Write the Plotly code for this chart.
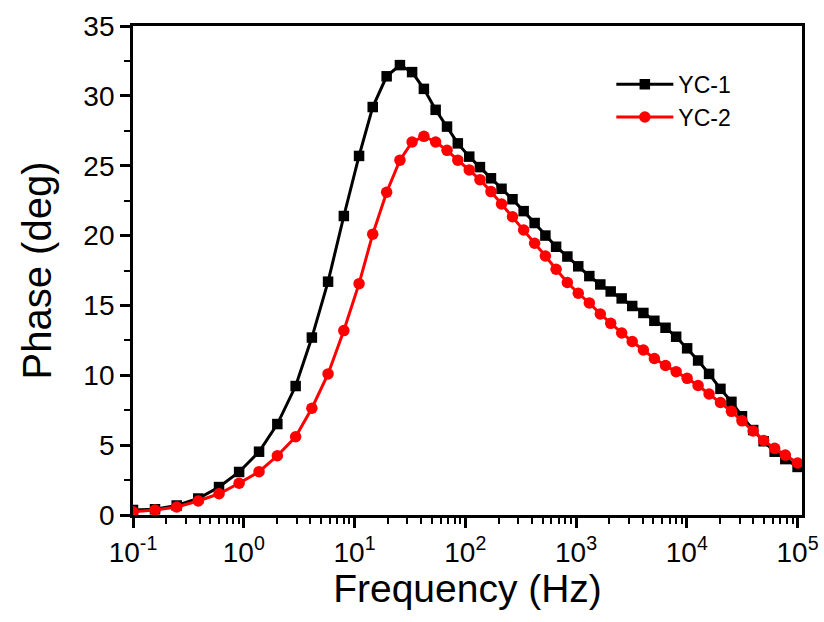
import plotly.graph_objects as go

freq = [0.1, 0.158, 0.248, 0.388, 0.598, 0.908, 1.374, 2.01, 2.94, 4.12, 5.77, 8.01,
        10.99, 14.6, 19.5, 25.7, 33.1, 42.3, 54.0, 68.4, 85.6, 108.6, 135.6, 170.5,
        212.4, 266.8, 336.5, 422.7, 528.7, 660.4, 835, 1047, 1318, 1656, 2055, 2582,
        3215, 4055, 5096, 6427, 8012, 10070, 12650, 15890, 20130, 25290, 31490, 39720,
        49400, 62100, 77500, 100000]

yc1 = [0.36, 0.41, 0.68, 1.18, 2.0, 3.08, 4.53, 6.51, 9.23, 12.7, 16.7, 21.4,
       25.7, 29.2, 31.4, 32.2, 31.7, 30.5, 29.0, 27.8, 26.6, 25.65, 24.9, 24.1,
       23.35, 22.6, 21.75, 20.9, 20.0, 19.2, 18.5, 17.8, 17.1, 16.5, 16.0, 15.5,
       14.96, 14.46, 13.9, 13.4, 12.76, 11.93, 11.06, 10.1, 9.03, 8.1, 7.07, 6.08,
       5.28, 4.53, 4.0, 3.44]

yc2 = [0.24, 0.36, 0.57, 1.0, 1.52, 2.27, 3.1, 4.24, 5.6, 7.64, 10.1, 13.2,
       16.56, 20.1, 23.1, 25.4, 26.7, 27.1, 26.7, 26.1, 25.4, 24.7, 24.0, 23.15,
       22.26, 21.35, 20.4, 19.45, 18.54, 17.59, 16.64, 15.87, 15.18, 14.39, 13.72, 13.03,
       12.42, 11.81, 11.2, 10.7, 10.26, 9.78, 9.27, 8.66, 8.05, 7.42, 6.74, 6.01,
       5.33, 4.77, 4.29, 3.72]

x_tickvals = [0.1, 1, 10, 100, 1000, 10000, 100000]
x_ticktext = ["10<sup>-1</sup>", "10<sup>0</sup>", "10<sup>1</sup>", "10<sup>2</sup>",
              "10<sup>3</sup>", "10<sup>4</sup>", "10<sup>5</sup>"]
y_tickvals = [0, 5, 10, 15, 20, 25, 30, 35]

FONT = "Liberation Sans, Arial, sans-serif"

fig = go.Figure()
fig.add_trace(go.Scatter(
    x=freq, y=yc1, mode="lines+markers", name="YC-1",
    line=dict(color="black", width=3),
    marker=dict(symbol="square", size=10.5, color="black"),
))
fig.add_trace(go.Scatter(
    x=freq, y=yc2, mode="lines+markers", name="YC-2",
    line=dict(color="#ff0000", width=3),
    marker=dict(symbol="circle", size=11.5, color="#ff0000"),
))

fig.update_layout(
    width=824, height=622,
    margin=dict(l=133, r=22, t=26, b=107),
    paper_bgcolor="white", plot_bgcolor="white",
    font=dict(family=FONT, color="black"),
    showlegend=True,
    legend=dict(x=0.715, y=0.925, xanchor="left", yanchor="top",
                font=dict(size=23, family=FONT), bgcolor="rgba(0,0,0,0)",
                itemwidth=57, tracegroupgap=0),
    xaxis=dict(
        type="log", range=[-1, 5.04], automargin=False,
        tickvals=x_tickvals, ticktext=x_ticktext,
        ticks="outside", ticklen=10, tickwidth=2.5, tickcolor="black",
        minor=dict(ticks="outside", ticklen=6, tickwidth=2, tickcolor="black", dtick="D1", showgrid=False),
        showline=True, linewidth=2.8, linecolor="black", mirror=True,
        showgrid=False, zeroline=False,
        tickfont=dict(size=28, family=FONT),
        title=dict(text="Frequency (Hz)", font=dict(size=39, family=FONT), standoff=8),
    ),
    yaxis=dict(
        range=[0, 35], tickvals=y_tickvals, automargin=False,
        ticks="outside", ticklen=10, tickwidth=2.5, tickcolor="black",
        minor=dict(ticks="outside", ticklen=6, tickwidth=2, tickcolor="black", dtick=2.5, showgrid=False),
        showline=True, linewidth=2.8, linecolor="black", mirror=True,
        showgrid=False, zeroline=False,
        tickfont=dict(size=28, family=FONT),
        title=dict(text="Phase (deg)", font=dict(size=40, family=FONT), standoff=20),
    ),
)

fig.write_html("out.html")
